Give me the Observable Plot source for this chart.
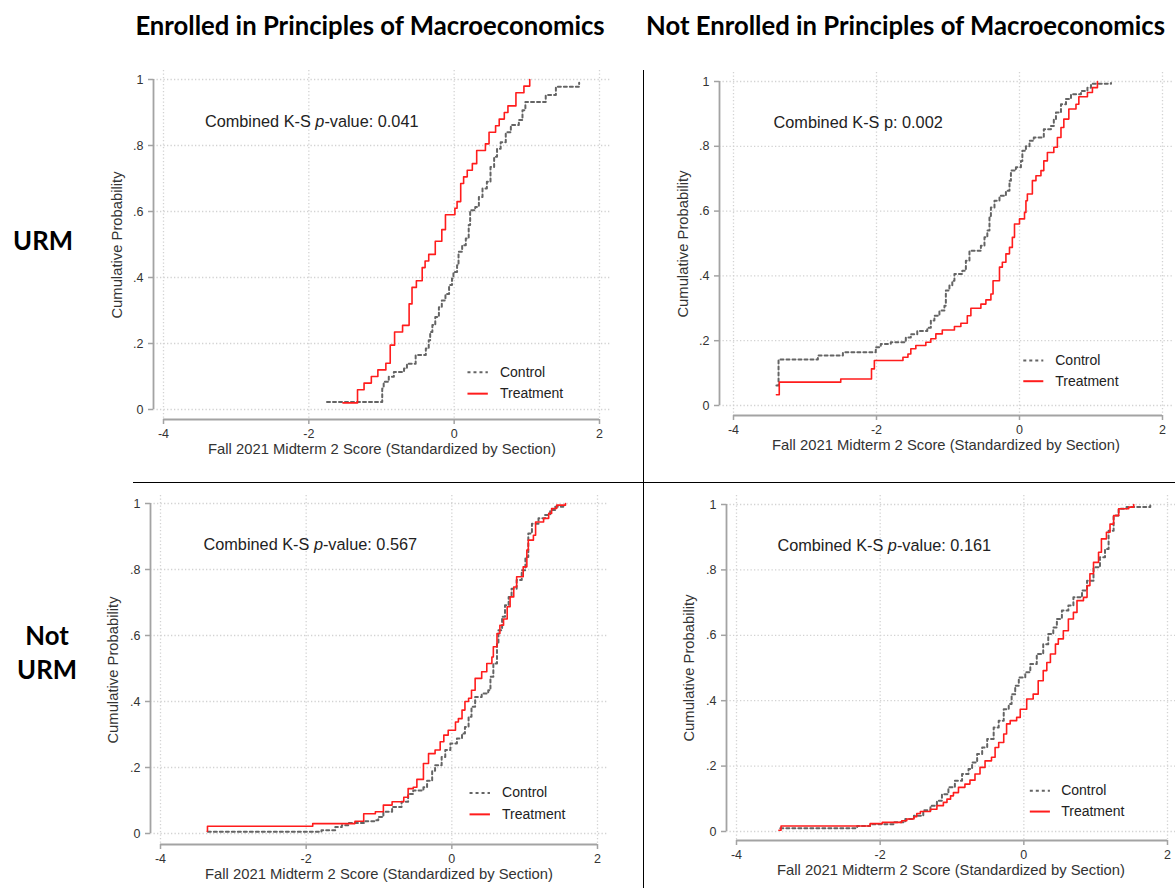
<!DOCTYPE html>
<html>
<head>
<meta charset="utf-8">
<script src="https://cdn.jsdelivr.net/npm/d3@7"></script>
<script src="https://cdn.jsdelivr.net/npm/@observablehq/plot@0.6"></script>
<style>
  html, body { margin: 0; padding: 0; background: #fff; }
  #root { position: relative; width: 1175px; height: 888px; overflow: hidden; background: #fff; }
  .hdr { position: absolute; font-family: Lato, "Open Sans", sans-serif; font-weight: 700; font-size: 25.7px; line-height: 34px; color: #000; white-space: pre; text-align: center; }
  .panel { position: absolute; }
  .rule { position: absolute; background: #000; }
</style>
</head>
<body>
<div id="root"></div>
<script>
// ---------- labels ----------
const xTicks = [-4, -2, 0, 2];
const xTickLabels = ["-4", "-2", "0", "2"];
const yTicks = [0, 0.2, 0.4, 0.6, 0.8, 1];
const yTickLabels = ["0", ".2", ".4", ".6", ".8", "1"];
const groups = ["Control", "Treatment"];
const columnTitles = ["Enrolled in Principles of Macroeconomics", "Not Enrolled in Principles of Macroeconomics"];
const rowTitles = ["URM", "Not\nURM"];
const xTitle = "Fall 2021 Midterm 2 Score (Standardized by Section)";
const yTitle = "Cumulative Probability";
const ksStatNames = ["p-value", "p", "p-value", "p-value"];
const ksItalic = [true, false, true, true];
const ksValues = ["0.041", "0.002", "0.567", "0.161"];

// ---------- series (step corners of the empirical CDFs) ----------
// URM, enrolled
const tlCtrlX = [-1.75,-0.99,-0.97,-0.90,-0.83,-0.69,-0.65,-0.53,-0.39,-0.35,-0.33,-0.30,-0.26,-0.21,-0.17,-0.12,-0.07,-0.03,-0.01,0.04,0.06,0.11,0.16,0.20,0.22,0.29,0.34,0.39,0.45,0.50,0.55,0.59,0.64,0.71,0.78,0.89,0.94,0.98,1.26,1.40,1.72];
const tlCtrlY = [0.023,0.064,0.084,0.099,0.114,0.124,0.139,0.165,0.185,0.21,0.235,0.256,0.28,0.31,0.33,0.35,0.377,0.397,0.417,0.437,0.478,0.498,0.518,0.559,0.604,0.614,0.644,0.67,0.69,0.735,0.766,0.79,0.81,0.84,0.862,0.877,0.907,0.932,0.953,0.978,0.99];
const tlTrtX = [-1.53,-1.33,-1.24,-1.14,-1.05,-0.94,-0.88,-0.82,-0.71,-0.62,-0.58,-0.52,-0.44,-0.40,-0.35,-0.26,-0.17,-0.12,0.01,0.04,0.09,0.13,0.18,0.25,0.31,0.43,0.48,0.57,0.62,0.69,0.74,0.85,0.96,1.04];
const tlTrtY = [0.02,0.06,0.08,0.10,0.12,0.14,0.195,0.235,0.255,0.32,0.37,0.39,0.43,0.45,0.47,0.51,0.545,0.59,0.61,0.63,0.685,0.705,0.725,0.745,0.785,0.805,0.84,0.86,0.88,0.90,0.92,0.96,0.98,1.0];
// URM, not enrolled
const trCtrlX = [-3.40,-3.37,-2.82,-2.47,-2.01,-1.94,-1.80,-1.59,-1.52,-1.43,-1.29,-1.24,-1.19,-1.12,-1.05,-1.03,-0.98,-0.94,-0.91,-0.80,-0.75,-0.70,-0.54,-0.49,-0.45,-0.42,-0.40,-0.35,-0.28,-0.19,-0.14,-0.12,-0.05,0.02,0.04,0.09,0.14,0.20,0.34,0.44,0.48,0.51,0.58,0.65,0.72,0.86,0.95,1.00,1.28];
const trCtrlY = [0.062,0.142,0.154,0.164,0.18,0.19,0.195,0.21,0.22,0.23,0.24,0.262,0.277,0.293,0.308,0.355,0.37,0.385,0.406,0.416,0.447,0.478,0.493,0.519,0.54,0.58,0.611,0.632,0.647,0.663,0.694,0.725,0.735,0.755,0.786,0.80,0.817,0.827,0.853,0.863,0.884,0.904,0.93,0.946,0.961,0.971,0.981,0.993,0.995];
const trTrtX = [-3.40,-3.36,-2.50,-2.07,-2.03,-1.63,-1.56,-1.52,-1.45,-1.31,-1.24,-1.17,-1.08,-0.91,-0.82,-0.73,-0.68,-0.54,-0.47,-0.40,-0.37,-0.28,-0.24,-0.19,-0.14,-0.10,-0.07,0.00,0.07,0.09,0.11,0.18,0.23,0.30,0.34,0.39,0.48,0.53,0.58,0.62,0.69,0.79,0.83,0.95,1.02,1.09];
const trTrtY = [0.033,0.072,0.082,0.113,0.139,0.149,0.159,0.175,0.185,0.195,0.206,0.221,0.233,0.244,0.254,0.277,0.30,0.313,0.326,0.344,0.385,0.427,0.442,0.468,0.488,0.519,0.56,0.576,0.596,0.632,0.653,0.694,0.709,0.725,0.755,0.781,0.797,0.827,0.858,0.884,0.915,0.93,0.953,0.966,0.981,1.0];
// Not URM, enrolled
const blCtrlX = [-3.35,-1.79,-1.60,-1.51,-1.42,-1.19,-1.05,-1.01,-0.94,-0.82,-0.69,-0.60,-0.53,-0.39,-0.34,-0.27,-0.23,-0.14,-0.09,-0.02,0.07,0.14,0.18,0.23,0.27,0.32,0.41,0.50,0.53,0.57,0.62,0.64,0.69,0.73,0.78,0.82,0.89,0.96,1.01,1.05,1.10,1.19,1.28,1.35,1.42,1.53];
const blCtrlY = [0.005,0.01,0.02,0.025,0.032,0.037,0.04,0.05,0.066,0.08,0.096,0.12,0.13,0.14,0.16,0.19,0.207,0.232,0.253,0.273,0.288,0.303,0.323,0.354,0.384,0.414,0.424,0.434,0.475,0.515,0.576,0.616,0.657,0.692,0.717,0.742,0.768,0.798,0.838,0.909,0.939,0.955,0.965,0.98,0.99,0.998];
const blTrtX = [-3.36,-3.355,-1.91,-1.33,-1.21,-1.05,-0.94,-0.82,-0.66,-0.60,-0.53,-0.48,-0.39,-0.32,-0.23,-0.16,-0.11,-0.05,0.05,0.09,0.14,0.18,0.23,0.27,0.32,0.41,0.48,0.55,0.57,0.62,0.66,0.71,0.76,0.80,0.85,0.89,0.98,1.03,1.05,1.12,1.15,1.26,1.33,1.37,1.44,1.56];
const blTrtY = [0.007,0.022,0.03,0.037,0.06,0.066,0.086,0.096,0.11,0.136,0.14,0.164,0.212,0.242,0.253,0.278,0.298,0.313,0.338,0.348,0.374,0.40,0.41,0.434,0.47,0.49,0.515,0.535,0.566,0.606,0.631,0.65,0.687,0.717,0.747,0.778,0.808,0.859,0.889,0.904,0.944,0.955,0.97,0.985,0.995,1.0];
// Not URM, not enrolled
const brCtrlX = [-3.39,-2.32,-2.14,-1.81,-1.65,-1.53,-1.40,-1.30,-1.21,-1.14,-1.05,-0.96,-0.86,-0.77,-0.72,-0.65,-0.58,-0.51,-0.42,-0.35,-0.28,-0.21,-0.17,-0.12,-0.07,0.02,0.09,0.18,0.27,0.34,0.41,0.46,0.53,0.62,0.69,0.81,0.88,0.97,1.06,1.13,1.18,1.25,1.32,1.43,1.76];
const brCtrlY = [0.01,0.017,0.022,0.028,0.038,0.048,0.065,0.079,0.094,0.114,0.135,0.155,0.176,0.191,0.211,0.237,0.257,0.283,0.318,0.339,0.374,0.39,0.42,0.446,0.471,0.487,0.512,0.543,0.573,0.604,0.624,0.65,0.676,0.691,0.716,0.737,0.767,0.808,0.839,0.864,0.92,0.966,0.987,0.992,0.997];
const brTrtX = [-3.41,-3.38,-2.14,-1.97,-1.70,-1.63,-1.53,-1.49,-1.44,-1.30,-1.21,-1.12,-1.07,-1.02,-0.98,-0.91,-0.82,-0.75,-0.68,-0.61,-0.54,-0.45,-0.40,-0.35,-0.28,-0.24,-0.19,-0.10,-0.05,0.04,0.13,0.20,0.27,0.32,0.37,0.44,0.48,0.55,0.62,0.69,0.74,0.83,0.88,0.92,0.97,1.04,1.08,1.15,1.20,1.25,1.32,1.46,1.53];
const brTrtY = [0.004,0.017,0.024,0.028,0.033,0.038,0.045,0.055,0.061,0.068,0.079,0.089,0.099,0.109,0.119,0.135,0.145,0.157,0.176,0.196,0.216,0.227,0.257,0.272,0.298,0.329,0.339,0.349,0.374,0.405,0.42,0.461,0.492,0.517,0.543,0.573,0.589,0.614,0.65,0.67,0.706,0.716,0.752,0.788,0.823,0.854,0.895,0.915,0.94,0.966,0.987,0.992,1.0];

// ---------- layout (pixels) ----------
const layouts = [
  {left: 58, top: 60, width: 557, height: 409, mL: 95, mT: 10, mR: 5, mB: 50, iL: 10, iR: 11, iT: 9, iB: 10, xTitleDy: 34, yTitleDx: 36,
   note: [-3.43, 0.871], leg: {x1: 0.19, x2: 0.47, tx: 0.63, y: [0.113, 0.048]}},
  {left: 624, top: 62, width: 551, height: 403, mL: 95, mT: 10, mR: 3, mB: 50, iL: 14, iR: 10, iT: 9, iB: 10, xTitleDy: 34, yTitleDx: 36,
   note: [-3.44, 0.874], leg: {x1: 0.06, x2: 0.34, tx: 0.50, y: [0.139, 0.075]}},
  {left: 55, top: 485, width: 557, height: 403, mL: 95, mT: 10, mR: 5, mB: 44, iL: 10, iR: 10, iT: 8, iB: 11, xTitleDy: 34, yTitleDx: 37,
   note: [-3.41, 0.874], leg: {x1: 0.25, x2: 0.53, tx: 0.69, y: [0.123, 0.058]}},
  {left: 631, top: 485, width: 544, height: 403, mL: 95, mT: 10, mR: 0, mB: 48, iL: 10, iR: 8, iT: 9, iB: 9, xTitleDy: 34, yTitleDx: 37,
   note: [-3.43, 0.874], leg: {x1: 0.09, x2: 0.37, tx: 0.52, y: [0.125, 0.061]}}
];
const series = [
  [tlCtrlX, tlCtrlY, tlTrtX, tlTrtY],
  [trCtrlX, trCtrlY, trTrtX, trTrtY],
  [blCtrlX, blCtrlY, blTrtX, blTrtY],
  [brCtrlX, brCtrlY, brTrtX, brTrtY]
];

const ctrlColor = "#646464";
const trtColor = "#ff1c1c";
const axisColor = "#a3a3a3";
const gridColor = "#d2d2d2";
const textColor = "#333333";

const root = document.getElementById("root");

function makePanel(i) {
  const p = layouts[i];
  const [cx, cy, tx, ty] = series[i];
  const ctrl = cx.map((x, j) => ({x, y: cy[j]}));
  const trt = tx.map((x, j) => ({x, y: ty[j]}));
  const note = `Combined K-S ${ksStatNames[i]}: ${ksValues[i]}`;
  const gridStyle = {stroke: gridColor, strokeOpacity: 1, strokeWidth: 1.3, strokeDasharray: "1.3,2.2"};
  const chart = Plot.plot({
    width: p.width, height: p.height,
    marginLeft: p.mL, marginRight: p.mR, marginTop: p.mT, marginBottom: p.mB,
    style: {fontFamily: "'Liberation Sans', Arial, sans-serif", background: "transparent", overflow: "visible"},
    x: {domain: [xTicks[0], xTicks[xTicks.length - 1]], insetLeft: p.iL, insetRight: p.iR},
    y: {domain: [yTicks[0], yTicks[yTicks.length - 1]], insetTop: p.iT, insetBottom: p.iB},
    marks: [
      Plot.gridY(yTicks, gridStyle),
      Plot.gridX(xTicks, gridStyle),
      Plot.ruleX([xTicks[0]], {y1: yTicks[0], y2: yTicks[yTicks.length - 1], dx: -p.iL, stroke: axisColor, strokeWidth: 1.8}),
      Plot.ruleY([yTicks[0]], {x1: xTicks[0], x2: xTicks[xTicks.length - 1], dy: p.iB, stroke: axisColor, strokeWidth: 1.8}),
      Plot.axisY(yTicks, {anchor: "left", tickSize: 5, tickPadding: 5, stroke: axisColor, strokeWidth: 1.5, fill: textColor, fontSize: 12.5,
        tickFormat: d => yTickLabels[yTicks.indexOf(d)], label: null}),
      Plot.axisX(xTicks, {anchor: "bottom", tickSize: 5, tickPadding: 5, stroke: axisColor, strokeWidth: 1.5, fill: textColor, fontSize: 12.5,
        tickFormat: d => xTickLabels[xTicks.indexOf(d)], label: null}),
      Plot.text([xTitle], {frameAnchor: "bottom", textAnchor: "middle", dy: p.xTitleDy, fontSize: 14.8, fill: textColor}),
      Plot.text([yTitle], {frameAnchor: "left", textAnchor: "middle", rotate: -90, dx: -p.yTitleDx, fontSize: 14.8, fill: textColor}),
      Plot.line(ctrl, {x: "x", y: "y", curve: "step-after", stroke: ctrlColor, strokeWidth: 2, strokeDasharray: "3,3"}),
      Plot.line(trt, {x: "x", y: "y", curve: "step-after", stroke: trtColor, strokeWidth: 1.6}),
      Plot.text([note], {x: p.note[0], y: p.note[1], textAnchor: "start", fontSize: 16.3, fill: "#222"}),
      Plot.ruleY([p.leg.y[0]], {x1: p.leg.x1, x2: p.leg.x2, stroke: ctrlColor, strokeWidth: 2, strokeDasharray: "3,3"}),
      Plot.ruleY([p.leg.y[1]], {x1: p.leg.x1, x2: p.leg.x2, stroke: trtColor, strokeWidth: 2}),
      Plot.text(groups, {x: p.leg.tx, y: (d, k) => p.leg.y[k], text: d => d, textAnchor: "start", fontSize: 14, fill: "#222"})
    ]
  });
  // italic "p" in the K-S note
  if (ksItalic[i]) {
    chart.querySelectorAll("text").forEach(t => {
      if (t.textContent === note) {
        const rest = note.slice("Combined K-S p".length);
        while (t.firstChild) t.removeChild(t.firstChild);
        t.appendChild(document.createTextNode("Combined K-S "));
        const ts = document.createElementNS("http://www.w3.org/2000/svg", "tspan");
        ts.setAttribute("font-style", "italic");
        ts.textContent = "p";
        t.appendChild(ts);
        t.appendChild(document.createTextNode(rest));
      }
    });
  }
  const wrap = document.createElement("div");
  wrap.className = "panel";
  wrap.style.left = p.left + "px";
  wrap.style.top = p.top + "px";
  wrap.appendChild(chart);
  root.appendChild(wrap);
}

for (let i = 0; i < 4; i++) makePanel(i);

// headers and row labels
function addLabel(text, left, top, width) {
  const d = document.createElement("div");
  d.className = "hdr";
  d.style.left = left + "px";
  d.style.top = top + "px";
  d.style.width = width + "px";
  d.textContent = text;
  root.appendChild(d);
}
addLabel(columnTitles[0], 90, 8, 560);
addLabel(columnTitles[1], 628, 8, 555);
addLabel(rowTitles[0], 0, 223, 86);
addLabel(rowTitles[1], 4, 618, 86);

// divider lines
function addRule(left, top, width, height) {
  const d = document.createElement("div");
  d.className = "rule";
  Object.assign(d.style, {left: left + "px", top: top + "px", width: width + "px", height: height + "px"});
  root.appendChild(d);
}
addRule(643, 70, 1.3, 818);
addRule(133, 482, 1042, 1.3);
</script>
</body>
</html>
